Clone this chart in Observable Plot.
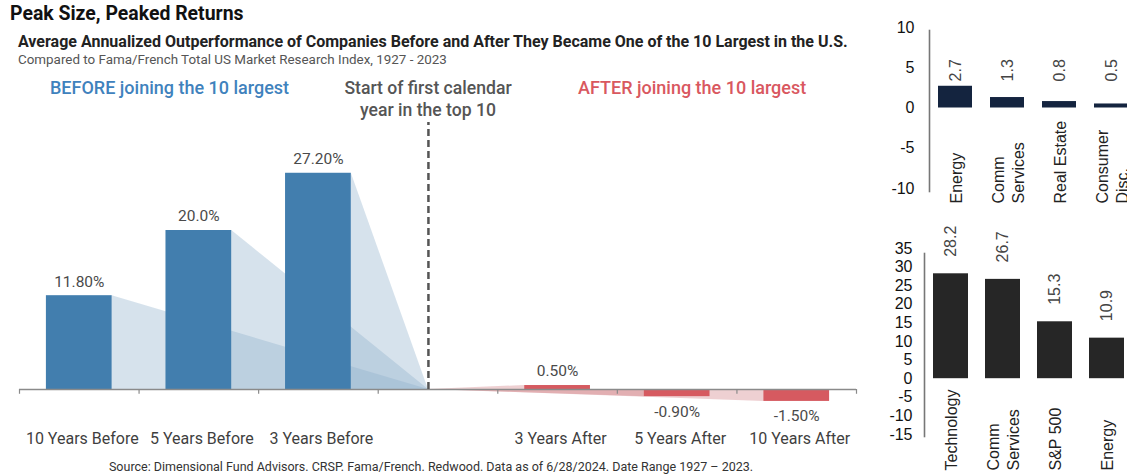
<!DOCTYPE html>
<html><head><meta charset="utf-8">
<script src="https://cdn.jsdelivr.net/npm/d3@7"></script>
<script src="https://cdn.jsdelivr.net/npm/@observablehq/plot@0.6"></script>
<style>
html,body{margin:0;padding:0;background:#fff;overflow:hidden;}
body{width:1127px;height:474px;position:relative;font-family:Roboto,"Noto Sans",sans-serif;}
.abs{position:absolute;white-space:nowrap;line-height:1;}
#title{left:10px;top:3px;font-size:21px;font-weight:700;color:#111;transform:scaleX(0.925);transform-origin:left center;}
#subtitle{left:18px;top:34px;font-size:16px;font-weight:700;color:#222;}
#note{left:18px;top:53px;font-size:13.4px;color:#555;}
#before{left:50px;top:79px;font-size:18px;font-weight:500;color:#3f82bd;}
#start{left:316px;width:224px;text-align:center;top:77px;font-size:17.6px;font-weight:500;color:#555;line-height:22px;white-space:normal;}
#after{left:578px;top:79px;font-size:18px;font-weight:500;color:#d9585f;}
#source{left:0;width:862px;text-align:center;top:461px;font-size:12.5px;color:#333;}
#main{left:0;top:115px;}
#rt{left:880px;top:0;}
#rb{left:880px;top:225px;}
</style>
</head>
<body>
<div class="abs" id="title">Peak Size, Peaked Returns</div>
<div class="abs" id="subtitle">Average Annualized Outperformance of Companies Before and After They Became One of the 10 Largest in the U.S.</div>
<div class="abs" id="note">Compared to Fama/French Total US Market Research Index, 1927 - 2023</div>
<div class="abs" id="before">BEFORE joining the 10 largest</div>
<div class="abs" id="start">Start of first calendar<br>year in the top 10</div>
<div class="abs" id="after">AFTER joining the 10 largest</div>
<div class="abs" id="main"></div>
<div class="abs" id="rt"></div>
<div class="abs" id="rb"></div>
<div class="abs" id="source">Source: Dimensional Fund Advisors. CRSP. Fama/French. Redwood. Data as of 6/28/2024. Date Range 1927 – 2023.</div>
<script>
// ---------- DATA ----------
const mainCategories = ["10 Years Before", "5 Years Before", "3 Years Before", "", "3 Years After", "5 Years After", "10 Years After"];
const beforeCategories = ["10 Years Before", "5 Years Before", "3 Years Before"];
const beforeValues = [11.8, 20.0, 27.2];
const beforeLabels = ["11.80%", "20.0%", "27.20%"];
const afterCategories = ["3 Years After", "5 Years After", "10 Years After"];
const afterValues = [0.5, -0.9, -1.5];
const afterLabels = ["0.50%", "-0.90%", "-1.50%"];

const topCategories = ["Energy", "Comm\nServices", "Real Estate", "Consumer\nDisc."];
const topValues = [2.7, 1.3, 0.8, 0.5];
const topTicks = [-10, -5, 0, 5, 10];

const bottomCategories = ["Technology", "Comm\nServices", "S&P 500", "Energy"];
const bottomValues = [28.2, 26.7, 15.3, 10.9];
const bottomTicks = [-15, -10, -5, 0, 5, 10, 15, 20, 25, 30, 35];

// ---------- LAYOUT ----------
const startMarker = 2.92;   // position of "start of first calendar year" divider
const half = 0.275;         // half bar width (in category units)
const pos = c => mainCategories.indexOf(c);

const beforeData = beforeCategories.map((c, i) => ({c, p: pos(c), v: beforeValues[i], label: beforeLabels[i]}));
const afterData = afterCategories.map((c, i) => ({c, p: pos(c), v: afterValues[i], label: afterLabels[i]}));
const shadowBefore = beforeData.flatMap(d => [{s: d.c, x: d.p + half, y: d.v}, {s: d.c, x: startMarker, y: 0}]);
const shadowAfter = afterData.flatMap(d => [{s: d.c, x: startMarker, y: 0}, {s: d.c, x: d.p - half, y: d.v}]);

const zero = 274, pxPer = 7.95;
const main = Plot.plot({
  width: 870, height: 335, margin: 0,
  style: {background: "transparent", fontFamily: "Roboto, sans-serif", fontSize: "15px"},
  x: {domain: [-0.5, 6.5], range: [19, 856], axis: null},
  y: {domain: [0, 30], range: [zero, zero - 30 * pxPer], axis: null},
  marks: [
    Plot.areaY(shadowBefore, {x: "x", y1: 0, y2: "y", z: "s", fill: "#90b1cc", fillOpacity: 0.37}),
    Plot.areaY(shadowAfter, {x: "x", y1: 0, y2: "y", z: "s", fill: "#c8646a", fillOpacity: 0.3}),
    Plot.rect(beforeData, {x1: d => d.p - half, x2: d => d.p + half, y1: 0, y2: "v", fill: "#427eae"}),
    Plot.rect(afterData, {x1: d => d.p - half, x2: d => d.p + half, y1: 0, y2: "v", fill: "#d65a60"}),
    Plot.ruleY([0], {x1: -0.5, x2: 6.5, stroke: "#8a8a8a", strokeWidth: 1.3}),
    Plot.ruleX(d3.range(-0.5, mainCategories.length, 1), {y1: 0, y2: -0.6, stroke: "#8a8a8a", strokeWidth: 1.2}),
    Plot.ruleX([startMarker], {y1: 0, y2: 33.6, stroke: "#555", strokeWidth: 2.5, strokeDasharray: "7,4"}),
    Plot.text(beforeData, {x: "p", y: "v", text: "label", dy: -14, fill: "#4a4a4a", fontSize: 15.5}),
    Plot.text(afterData.filter(d => d.v >= 0), {x: "p", y: "v", text: "label", dy: -14, fill: "#4a4a4a", fontSize: 15.5}),
    Plot.text(afterData.filter(d => d.v < 0), {x: "p", y: "v", text: "label", dy: 15, fill: "#4a4a4a", fontSize: 15.5}),
    Plot.text(mainCategories.filter(c => c), {x: pos, y: 0, text: d => d, dx: 3, dy: 49, fill: "#3f3f3f", fontSize: 16})
  ]
});
document.getElementById("main").append(main);

const topData = topCategories.map((c, i) => ({c, v: topValues[i]}));
const rt = Plot.plot({
  width: 247, height: 215,
  marginLeft: 49, marginTop: 30, marginBottom: 24, marginRight: 0,
  style: {background: "transparent", fontFamily: "'Liberation Sans', Arial, sans-serif", fontSize: "16px"},
  x: {domain: topCategories, range: [49, 257], paddingInner: 0.346, paddingOuter: 0.173, axis: null},
  y: {domain: [-10, 10], range: [188, 27], axis: null},
  marks: [
    Plot.axisY(topTicks, {anchor: "left", tickSize: 0, tickPadding: 15, label: null, fontSize: 16, fill: "#111", tickFormat: d => String(d)}),
    Plot.frame({anchor: "left", stroke: "#777", strokeWidth: 1.6}),
    Plot.barY(topData, {x: "c", y: "v", fill: "#14243f"}),
    Plot.text(topData, {x: "c", y: 3.3, text: d => d.v.toFixed(1), rotate: -90, textAnchor: "start", fontSize: 16, fill: "#444"}),
    Plot.text(topData, {x: "c", y: -10, dy: 15, text: "c", rotate: -90, textAnchor: "start", lineHeight: 1.25, fontSize: 16, fill: "#222"})
  ]
});
document.getElementById("rt").append(rt);

const bottomData = bottomCategories.map((c, i) => ({c, v: bottomValues[i]}));
const rb = Plot.plot({
  width: 247, height: 249,
  marginLeft: 44, marginTop: 28, marginBottom: 38, marginRight: 0,
  style: {background: "transparent", fontFamily: "'Liberation Sans', Arial, sans-serif", fontSize: "16px"},
  x: {domain: bottomCategories, range: [44, 253], paddingInner: 0.33, paddingOuter: 0.17, axis: null},
  y: {domain: [-15, 35], range: [209, 23], axis: null},
  marks: [
    Plot.axisY(bottomTicks, {anchor: "left", tickSize: 0, tickPadding: 12, label: null, fontSize: 16, fill: "#111", tickFormat: d => String(d)}),
    Plot.frame({anchor: "left", stroke: "#777", strokeWidth: 1.6}),
    Plot.barY(bottomData, {x: "c", y: "v", fill: "#262626"}),
    Plot.text(bottomData, {x: "c", y: "v", dy: -17, text: d => d.v.toFixed(1), rotate: -90, textAnchor: "start", fontSize: 16, fill: "#444"}),
    Plot.text(bottomData, {x: "c", y: -15, dy: 36, text: "c", rotate: -90, textAnchor: "start", lineHeight: 1.25, fontSize: 16, fill: "#222"})
  ]
});
document.getElementById("rb").append(rb);
</script>
</body></html>
